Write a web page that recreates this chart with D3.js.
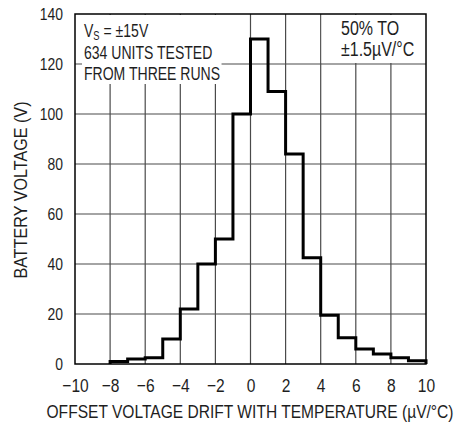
<!DOCTYPE html>
<html>
<head>
<meta charset="utf-8">
<script src="https://cdn.jsdelivr.net/npm/d3@7"></script>
<style>
  html, body { margin: 0; padding: 0; background: #fff; }
  svg { display: block; font-family: "Liberation Sans", Arial, Helvetica, sans-serif; }
</style>
</head>
<body>
<svg id="chart" width="455" height="423"></svg>
<script>
// Histogram bins: left edges (µV/°C) and counts per 1 µV/°C bin
const binStarts = [-8, -7, -6, -5, -4, -3, -2, -1, 0, 1, 2, 3, 4, 5, 6, 7, 8, 9];
const binCounts = [1, 2, 2.5, 10, 22, 40, 50, 100, 130, 109, 84, 42.5, 19.5, 10.5, 6, 4, 2.5, 1.3];
const binWidth = 1;

const xTicks = [-10, -8, -6, -4, -2, 0, 2, 4, 6, 8, 10];
const yTicks = [0, 20, 40, 60, 80, 100, 120, 140];

const xTitle = "OFFSET VOLTAGE DRIFT WITH TEMPERATURE (µV/°C)";
const yTitle = "BATTERY VOLTAGE (V)";
const noteLeft = ["634 UNITS TESTED", "FROM THREE RUNS"];
const noteRight = ["50% TO", "±1.5µV/°C"];

const svg = d3.select("#chart");
const plotL = 75, plotR = 426, plotT = 14, plotB = 364;
const narrow = 0.82;          // horizontal squeeze for the condensed lettering
const ink = "#1e1e1e";

const x = d3.scaleLinear().domain([-10, 10]).range([plotL, plotR]);
const y = d3.scaleLinear().domain([0, 140]).range([plotB, plotT]);

const minus = s => String(s).replace("-", "\u2212");

// grid
const grid = svg.append("g").attr("stroke", "#4a4a4a").attr("stroke-width", 1.2);
grid.selectAll("line.v").data(xTicks.slice(1, -1)).join("line")
  .attr("x1", d => x(d)).attr("x2", d => x(d))
  .attr("y1", y(0)).attr("y2", y(140));
grid.selectAll("line.h").data(yTicks.slice(1, -1)).join("line")
  .attr("x1", x(-10)).attr("x2", x(10))
  .attr("y1", d => y(d)).attr("y2", d => y(d));

// white panels behind the notes
svg.append("rect")
  .attr("x", x(-9.6)).attr("y", y(140) + 1)
  .attr("width", x(-1.65) - x(-9.6)).attr("height", y(112) - y(140) - 1)
  .attr("fill", "#fff");
svg.append("rect")
  .attr("x", x(4) + 1).attr("y", y(140) + 1)
  .attr("width", x(10) - x(4) - 2).attr("height", y(120) - y(140) - 2)
  .attr("fill", "#fff");

// frame
svg.append("rect")
  .attr("x", x(-10)).attr("y", y(140))
  .attr("width", x(10) - x(-10)).attr("height", y(0) - y(140))
  .attr("fill", "none").attr("stroke", "#000").attr("stroke-width", 1.5);

// histogram outline
const pts = [[binStarts[0], 0]];
binStarts.forEach((b, i) => {
  pts.push([b, binCounts[i]]);
  pts.push([b + binWidth, binCounts[i]]);
});
pts.push([binStarts[binStarts.length - 1] + binWidth, 0]);
const line = d3.line().x(d => x(d[0])).y(d => y(d[1]));
svg.append("path").attr("d", line(pts))
  .attr("fill", "none").attr("stroke", "#000").attr("stroke-width", 3)
  .attr("stroke-linejoin", "miter");

// x tick labels
const xAxis = d3.axisBottom(x).tickValues(xTicks).tickSize(0).tickPadding(0).tickFormat(minus);
const gx = svg.append("g").attr("transform", `translate(0,${plotB})`).call(xAxis);
gx.select(".domain").remove();
gx.selectAll("text")
  .attr("font-size", 19).attr("font-family", null).attr("fill", ink)
  .attr("dy", null).attr("y", 28)
  .attr("transform", `scale(${narrow},1)`);

// y tick labels
const yPad = 12;
const yAxis = d3.axisLeft(y).tickValues(yTicks).tickSize(0).tickPadding(0);
const gy = svg.append("g").attr("transform", `translate(${plotL},0)`).call(yAxis);
gy.select(".domain").remove();
gy.selectAll("text")
  .attr("font-size", 17).attr("font-family", null).attr("fill", ink)
  .attr("x", -yPad / narrow)
  .attr("transform", `scale(${narrow},1)`);

// axis titles
svg.append("text")
  .attr("transform", `translate(250,418) scale(${narrow},1)`)
  .attr("text-anchor", "middle").attr("font-size", 19).attr("fill", ink).text(xTitle);
svg.append("text")
  .attr("transform", `translate(27,${(plotT + plotB) / 2 + 1}) rotate(-90) scale(0.85,1)`)
  .attr("text-anchor", "middle").attr("font-size", 19).attr("fill", ink).text(yTitle);

// notes, upper left
const nl = svg.append("g").attr("font-size", 18).attr("fill", ink);
const vs = nl.append("text").attr("transform", `translate(84,37) scale(0.78,1)`);
vs.append("tspan").text("V");
vs.append("tspan").attr("font-size", 12).attr("dy", 3).text("S");
vs.append("tspan").attr("dy", -3).text(" = ±15V");
nl.selectAll("text.l").data(noteLeft).join("text")
  .attr("class", "l")
  .attr("transform", (d, i) => `translate(84,${58.5 + i * 21.5}) scale(0.78,1)`)
  .text(d => d);

// notes, upper right
svg.append("g").attr("font-size", 19.5).attr("fill", ink)
  .selectAll("text").data(noteRight).join("text")
  .attr("transform", (d, i) => `translate(341,${35 + i * 20.5}) scale(${narrow},1)`)
  .text(d => d);
</script>
</body>
</html>
